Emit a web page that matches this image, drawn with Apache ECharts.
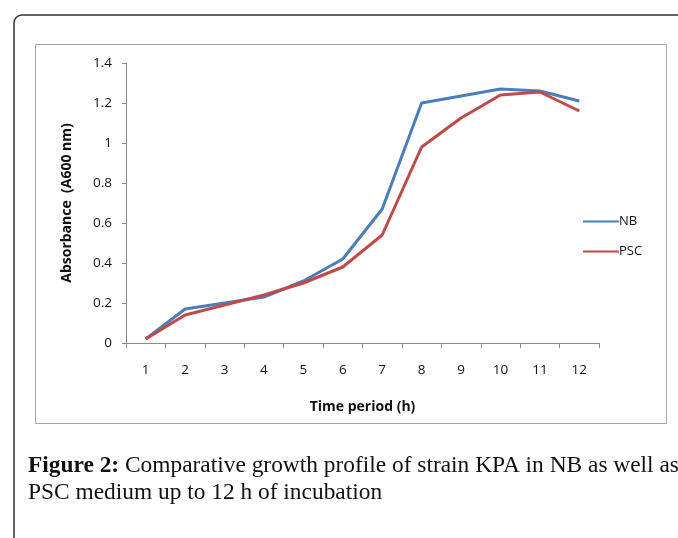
<!DOCTYPE html>
<html>
<head>
<meta charset="utf-8">
<script src="https://cdn.jsdelivr.net/npm/echarts@6/dist/echarts.min.js"></script>
<style>
html,body{margin:0;padding:0;background:#fff;}
#chart{width:678px;height:538px;}
</style>
</head>
<body>
<div id="chart"></div>
<script>
// ---- data ----
var categories = ['1','2','3','4','5','6','7','8','9','10','11','12'];
var nbValues  = [0.02, 0.17, 0.20, 0.23, 0.31, 0.42, 0.67, 1.20, 1.235, 1.27, 1.26, 1.21];
var pscValues = [0.02, 0.14, 0.19, 0.24, 0.30, 0.38, 0.54, 0.98, 1.125, 1.24, 1.255, 1.16];
var seriesNames = ['NB', 'PSC'];
var yTicks = [0, 0.2, 0.4, 0.6, 0.8, 1, 1.2, 1.4];
var xTitle = 'Time period (h)';
var yTitle = 'Absorbance  (A600 nm)';
var captionBold = 'Figure 2:';
var captionLine1 = ' Comparative growth profile of strain KPA in NB as well as';
var captionLine2 = 'PSC medium up to 12 h of incubation';

var font = '"Open Sans", sans-serif';
var chart = echarts.init(document.getElementById('chart'), null, {renderer: 'canvas'});
var option = {
  animation: false,
  backgroundColor: '#ffffff',
  grid: {left: 126, right: 79, top: 63, bottom: 195, containLabel: false},
  legend: {
    orient: 'vertical', left: 578, top: 210, itemGap: 17,
    itemWidth: 36, itemHeight: 2, icon: 'rect',
    data: seriesNames,
    textStyle: {fontFamily: font, fontSize: 13, color: '#111', padding: [0,0,0,-5]}
  },
  xAxis: {
    type: 'category', data: categories, boundaryGap: true,
    name: xTitle, nameLocation: 'middle', nameGap: 57,
    nameTextStyle: {fontFamily: font, fontSize: 14, fontWeight: 'bold', color: '#111'},
    axisLine: {lineStyle: {color: '#8a8a8a', width: 1}},
    axisTick: {show: true, length: 5, alignWithLabel: false, lineStyle: {color: '#8a8a8a'}},
    axisLabel: {fontFamily: font, fontSize: 13.5, color: '#111', margin: 20},
    splitLine: {show: false}
  },
  yAxis: {
    type: 'value', min: yTicks[0], max: yTicks[yTicks.length-1], interval: 0.2,
    name: yTitle, nameLocation: 'middle', nameGap: 52, nameRotate: 90,
    nameTextStyle: {fontFamily: font, fontSize: 14, fontWeight: 'bold', color: '#111'},
    axisLine: {show: true, lineStyle: {color: '#8a8a8a', width: 1}},
    axisTick: {show: true, length: 4, lineStyle: {color: '#8a8a8a'}},
    axisLabel: {fontFamily: font, fontSize: 13.5, color: '#111', margin: 14,
      formatter: function(v){ return String(+v.toFixed(1)); }},
    splitLine: {show: false}
  },
  series: [
    {name: seriesNames[0], type: 'line', data: nbValues, symbol: 'none', smooth: false,
     itemStyle: {color: '#4A7EBB'}, lineStyle: {color: '#4A7EBB', width: 3}},
    {name: seriesNames[1], type: 'line', data: pscValues, symbol: 'none', smooth: false,
     itemStyle: {color: '#BE4B48'}, lineStyle: {color: '#BE4B48', width: 3}}
  ],
  graphic: [
    {type: 'rect', z: -10, shape: {x: 14, y: 15, width: 720, height: 600, r: [8,0,0,0]},
     style: {fill: 'none', stroke: '#333333', lineWidth: 1.5}},
    {type: 'rect', z: -9, shape: {x: 35.5, y: 44.5, width: 631, height: 379},
     style: {fill: 'none', stroke: '#a6a6a6', lineWidth: 1}},
    {type: 'text', left: 28, top: 454,
     style: {text: '{b|' + captionBold + '}' + captionLine1,
       font: '23.4px "Liberation Serif", serif', fill: '#111',
       rich: {b: {fontFamily: '"Liberation Serif", serif', fontSize: 23.4, fontWeight: 'bold', fill: '#111'}}}},
    {type: 'text', left: 28, top: 481,
     style: {text: captionLine2, font: '23.4px "Liberation Serif", serif', fill: '#111'}}
  ]
};
chart.setOption(option);
</script>
</body>
</html>
